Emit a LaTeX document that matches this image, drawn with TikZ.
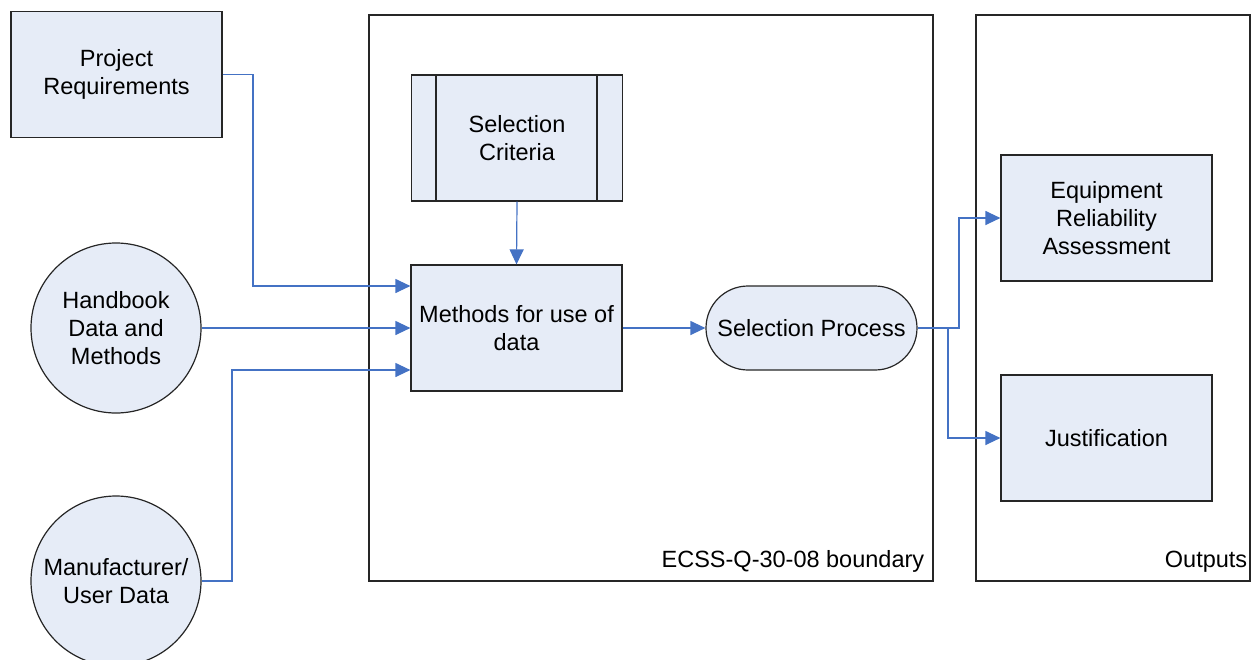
\documentclass[tikz,border=0pt]{standalone}
\usepackage{fontspec}
\setmainfont{Liberation Sans}
\usetikzlibrary{arrows.meta}

\definecolor{boxfill}{RGB}{230,236,247}
\definecolor{linkblue}{RGB}{68,114,196}

\tikzset{
    block/.style={draw=black!85, line width=0.6pt, fill=boxfill, minimum width=105.5pt, minimum height=63pt, align=center, inner sep=2pt},
    roundblock/.style={block, minimum height=42pt, rounded corners=21pt},
    source/.style={draw=black!85, line width=0.6pt, fill=boxfill, circle, minimum size=85pt, align=center, inner sep=0pt},
    boundary/.style={draw=black!85, line width=0.6pt, inner sep=0pt},
    tag/.style={anchor=base east, inner sep=0pt},
    link/.style={draw=linkblue, line width=0.6pt, -{Triangle[length=7.5pt,width=7pt]}}
}

\begin{document}
\begin{tikzpicture}[x=0.5pt, y=-0.5pt, font=\fontsize{11.75}{14}\selectfont]
        \useasboundingbox (0,0) rectangle (1258,659);

        % boundaries
        \node[boundary, minimum width=282pt, minimum height=283pt] (ecss) at (651,298) {};
        \node[tag] (ecsstag) at ([xshift=-4.5pt, yshift=7pt]ecss.south east) {ECSS-Q-30-08 boundary};
        \node[boundary, minimum width=137pt, minimum height=283pt] (outp) at (1113,298) {};
        \node[tag] (outptag) at ([xshift=-1.5pt, yshift=7pt]outp.south east) {Outputs};

        % inputs
        \node[block] (proj) at (116.5,74.5) {Project\\Requirements};
        \node[source] (hand) at (116,328) {Handbook\\Data and\\Methods};
        \node[source] (manu) at (116,581) {Manufacturer/\\User Data};

        % inside the boundary
        \node[block] (crit) at (517,138) {Selection\\Criteria};
        \draw[black!85, line width=0.6pt] ([xshift=-40.5pt]crit.north) -- ([xshift=-40.5pt]crit.south);
        \draw[black!85, line width=0.6pt] ([xshift=40pt]crit.north) -- ([xshift=40pt]crit.south);
        \node[block] (meth) at (516.5,328) {Methods for use of\\data};
        \node[roundblock] (selp) at (811.5,328) {Selection Process};

        % outputs
        \node[block] (equip) at (1106.5,218) {Equipment\\Reliability\\Assessment};
        \node[block] (just) at (1106.5,438) {Justification};

        % connectors
        \draw[link] (proj.east) -| (253,286) -- ([yshift=21pt]meth.west);
        \draw[link] (hand.east) -- (meth.west);
        \draw[link] (manu.east) -| (232,370) -- ([yshift=-21pt]meth.west);
        \draw[link] (crit.south) -- (meth.north);
        \draw[link] (meth.east) -- (selp.west);
        \draw[link] (selp.east) -- (959,328) |- (equip.west);
        \draw[link] (selp.east) -- (948,328) |- (just.west);
    \end{tikzpicture}
\end{document}
